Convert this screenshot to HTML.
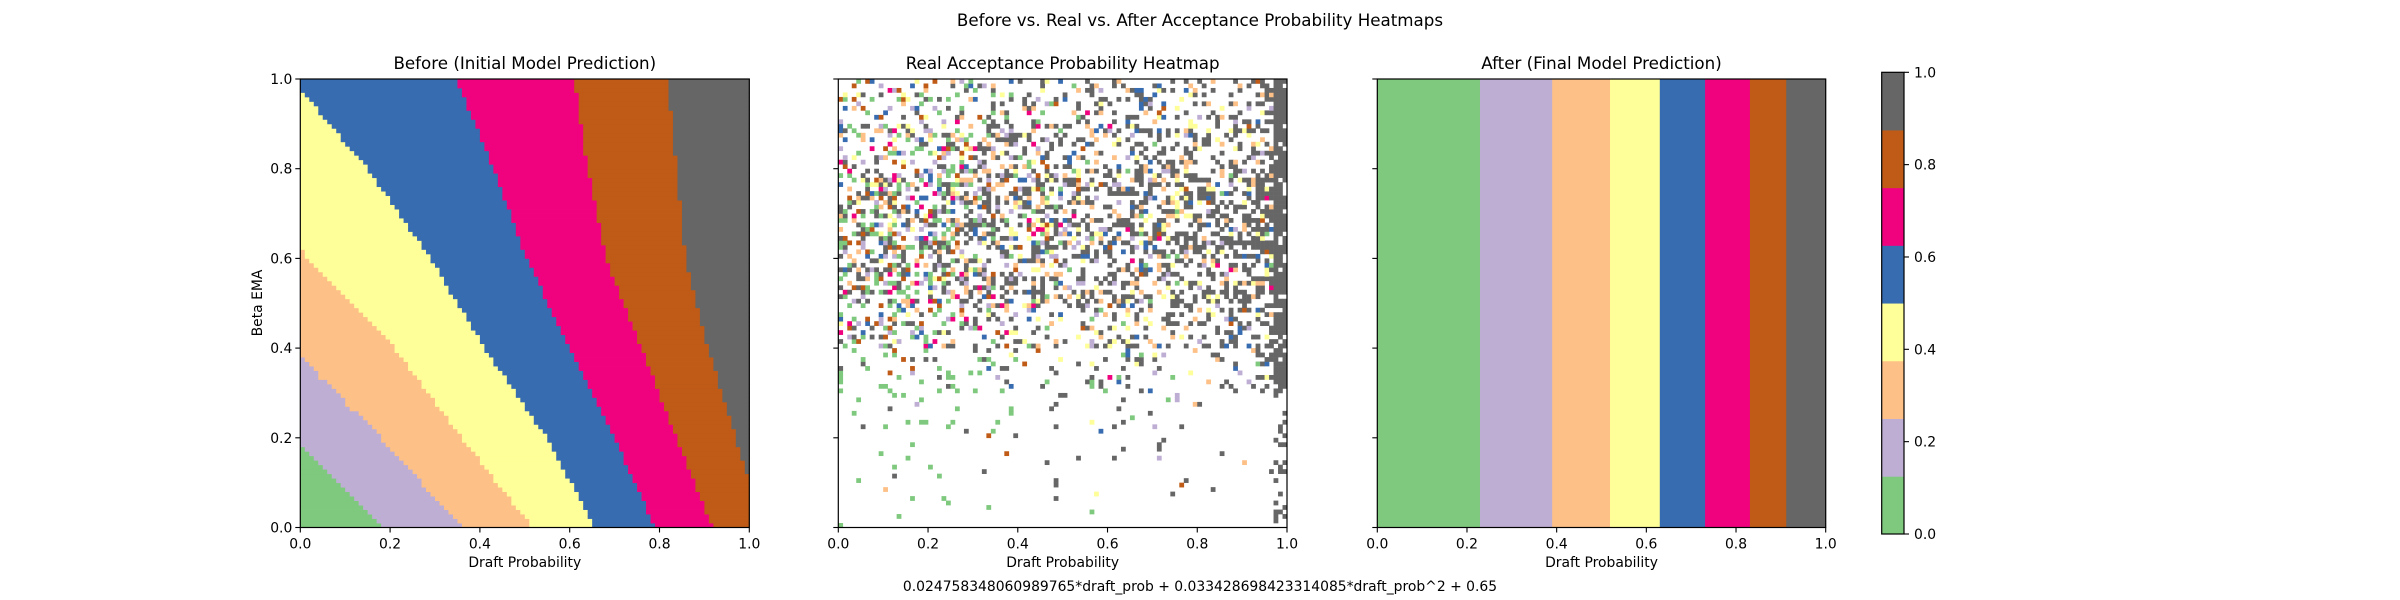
<!DOCTYPE html>
<html><head><meta charset="utf-8"><style>
html,body{margin:0;padding:0;background:#fff;}
svg{display:block;font-family:"DejaVu Sans","Liberation Sans",sans-serif;}
text{fill:#000;}
</style></head><body>
<svg id="fig" width="2400" height="600" viewBox="0 0 2400 600" xmlns="http://www.w3.org/2000/svg">
<text x="1200" y="26" font-size="16.7" text-anchor="middle">Before vs. Real vs. After Acceptance Probability Heatmaps</text>
<g id="p1"></g>
<g id="p2"></g>
<g id="p3"></g>
<g id="cb"></g>
<text x="1200" y="591" font-size="13.9" text-anchor="middle">0.024758348060989765*draft_prob + 0.033428698423314085*draft_prob^2 + 0.65</text>
</svg>
<script>
// ---- data ----
const colors = ["#7fc97f","#beaed4","#fdc086","#ffff99","#386cb0","#f0027f","#bf5b17","#666666"];
const tickLabels = ["0.0","0.2","0.4","0.6","0.8","1.0"];
const tickValues = [0,0.2,0.4,0.6,0.8,1.0];
// Before panel: x-position of each color boundary, sampled at these beta levels
const boundaryY = [0,0.2,0.4,0.6,0.8,1.0];
const bGreenPurple  = [0.19,-0.02,-0.25,-0.5,-0.7,-0.9];
const bPurpleOrange = [0.36,0.18,-0.02,-0.22,-0.42,-0.62];
const bOrangeYellow = [0.517,0.36,0.21,0.018,-0.15,-0.3];
const bYellowBlue   = [0.657,0.549,0.41,0.29,0.15,-0.02];
const bBluePink     = [0.79,0.70,0.60,0.504,0.43,0.348];
const bPinkBrown    = [0.918,0.838,0.76,0.68,0.64,0.61];
const bBrownGray    = [1.03,0.97,0.908,0.858,0.838,0.818];
// After panel: vertical band edges in draft probability
const afterEdges = [0,0.229,0.39,0.519,0.63,0.731,0.831,0.912,1.0];
// Real panel: fill density per 10% band of beta (bottom to top)
const realDensity = [0.015,0.02,0.035,0.12,0.28,0.45,0.5,0.46,0.36,0.26];
const gridN = 100;

const NS="http://www.w3.org/2000/svg";
function el(tag,attrs,parent){const e=document.createElementNS(NS,tag);for(const k in attrs)e.setAttribute(k,attrs[k]);parent.appendChild(e);return e;}
const PY0=79, PY1=527.5;
const panels=[{g:'p1',x0:300.3,x1:749.3},{g:'p2',x0:838.3,x1:1287},{g:'p3',x0:1377.3,x1:1825.7}];
function sx(p,v){return p.x0+v*(p.x1-p.x0);}
function sy(v){return PY1-v*(PY1-PY0);}

function interp(arr,y){
  for(let i=0;i<boundaryY.length-1;i++){
    if(y<=boundaryY[i+1]){const t=(y-boundaryY[i])/(boundaryY[i+1]-boundaryY[i]);return arr[i]+t*(arr[i+1]-arr[i]);}
  }
  return arr[arr.length-1];
}
// Panel 1
(function(){
  const p=panels[0], g=document.getElementById('p1');
  const bs=[bGreenPurple,bPurpleOrange,bOrangeYellow,bYellowBlue,bBluePink,bPinkBrown,bBrownGray];
  const cw=(p.x1-p.x0)/gridN, ch=(PY1-PY0)/gridN;
  for(let r=0;r<gridN;r++){
    const y=(r+0.5)/gridN;
    let start=0, cur=-1;
    for(let c=0;c<=gridN;c++){
      let idx=-2;
      if(c<gridN){const x=(c+0.5)/gridN; idx=0; for(const b of bs){ if(x>interp(b,y)) idx++; }}
      if(idx!==cur){
        if(cur>=0){
          const rc=el('rect',{x:(p.x0+start*cw).toFixed(2),y:(PY1-(r+1)*ch).toFixed(2),width:((c-start)*cw+0.4).toFixed(2),height:(ch+0.4).toFixed(2),fill:colors[cur]},g);
          
          
        }
        start=c; cur=idx;
      }
    }
  }
})();
// Panel 2
(function(){
  const p=panels[1], g=document.getElementById('p2');
  const cw=(p.x1-p.x0)/gridN, ch=(PY1-PY0)/gridN;
  function h(a,b,s){let n=(a*374761393+b*668265263+s*2147483647)|0;n=(n^(n>>>13))*1274126177|0;n=n^(n>>>16);return (n>>>0)/4294967296;}
  for(let r=0;r<gridN;r++){
    const y=(r+0.5)/gridN;
    const d=realDensity[Math.min(9,Math.floor(y*10))];
    for(let c=0;c<gridN;c++){
      const x=(c+0.5)/gridN;
      let dd=d;
      if(c>=97) dd = y>0.3 ? 0.85 : 0.3;
      else if(c>=93 && y>0.3) dd=Math.min(0.7,d+0.2);
      if(h(c,r,1)>=dd) continue;
      let idx;
      const gp=0.25+0.55*x + (y<0.35?-0.1:0);
      const u=h(c,r,2);
      if(c>=97) idx=7;
      else if(u<gp) idx=7;
      else {
        const gw=Math.max(0.05,0.6-0.7*x)+(y<0.4?0.3:0);
        const v=h(c,r,3);
        idx = v<gw ? 0 : 1+Math.floor(h(c,r,4)*6);
      }
      const rc=el('rect',{x:(p.x0+c*cw).toFixed(2),y:(PY1-(r+1)*ch).toFixed(2),width:(cw+0.3).toFixed(2),height:(ch+0.3).toFixed(2),fill:colors[idx]},g);
      
      
    }
  }
})();
// Panel 3
(function(){
  const p=panels[2], g=document.getElementById('p3');
  for(let i=0;i<afterEdges.length-1;i++){
    const rc=el('rect',{x:sx(p,afterEdges[i]),y:PY0,width:sx(p,afterEdges[i+1])-sx(p,afterEdges[i])+0.4,height:PY1-PY0,fill:colors[i]},g);
    
    
  }
})();
// Axes
const titles=["Before (Initial Model Prediction)","Real Acceptance Probability Heatmap","After (Final Model Prediction)"];
panels.forEach((p,i)=>{
  const g=document.getElementById(p.g);
  const fr=el('rect',{x:p.x0,y:PY0,width:p.x1-p.x0,height:PY1-PY0,fill:'none',stroke:'#000','stroke-width':1.2},g);
  
  
  const t=el('text',{x:(p.x0+p.x1)/2,y:69,'font-size':16.7,'text-anchor':'middle'},g);
  t.textContent=titles[i];
  
  
  tickValues.forEach((v,k)=>{
    const X=sx(p,v);
    el('line',{x1:X,x2:X,y1:PY1,y2:PY1+5,stroke:'#000','stroke-width':1.1},g);
    const tl=el('text',{x:X,y:PY1+21,'font-size':13.9,'text-anchor':'middle'},g);
    tl.textContent=tickLabels[k];
    
    
    const Y=sy(v);
    el('line',{x1:p.x0-5,x2:p.x0,y1:Y,y2:Y,stroke:'#000','stroke-width':1.1},g);
    if(i===0){
      const yl=el('text',{x:p.x0-8,y:Y+5,'font-size':13.9,'text-anchor':'end'},g);
      yl.textContent=tickLabels[k];
      
      
    }
  });
  const xl=el('text',{x:(p.x0+p.x1)/2,y:567,'font-size':13.9,'text-anchor':'middle'},g);
  xl.textContent="Draft Probability";
  
  
});
(function(){
  const g=document.getElementById('p1');
  const yl=el('text',{x:0,y:0,'font-size':13.9,'text-anchor':'middle',transform:'translate(262,303) rotate(-90)'},g);
  yl.textContent="Beta EMA";
  
  
})();
// Colorbar
(function(){
  const g=document.getElementById('cb');
  const X0=1881.7, X1=1904, Y0=72.3, Y1=534;
  const cy=v=>Y1-v*(Y1-Y0);
  colors.forEach((c,i)=>{
    const rc=el('rect',{x:X0,y:cy((i+1)/8),width:X1-X0,height:(Y1-Y0)/8+0.4,fill:c},g);
    
    
  });
  el('rect',{x:X0,y:Y0,width:X1-X0,height:Y1-Y0,fill:'none',stroke:'#000','stroke-width':1.2},g);
  tickValues.forEach((v,k)=>{
    const Y=cy(v);
    el('line',{x1:X1,x2:X1+5,y1:Y,y2:Y,stroke:'#000','stroke-width':1.1},g);
    const t=el('text',{x:X1+10,y:Y+5,'font-size':13.9},g);
    t.textContent=tickLabels[k];
    
    
  });
})();
</script>
</body></html>
